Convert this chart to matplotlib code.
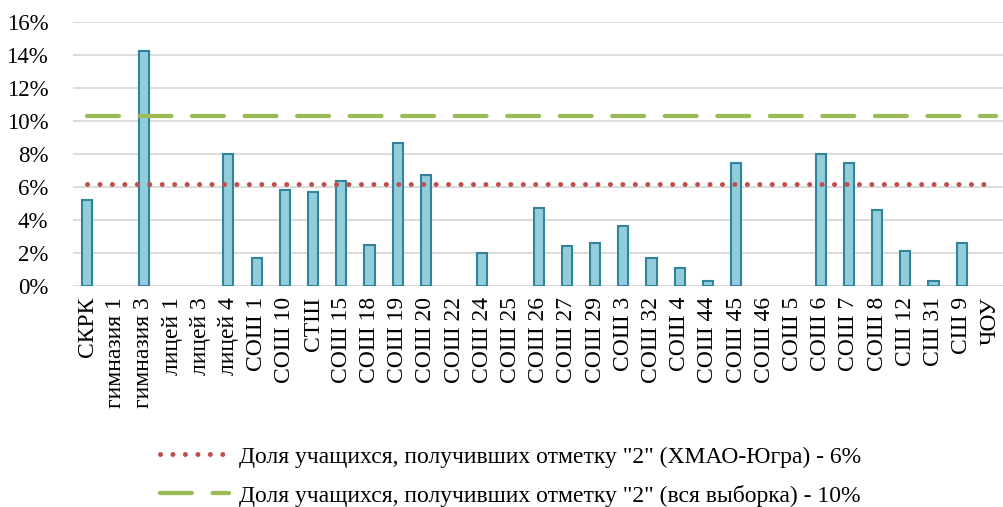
import matplotlib.pyplot as plt
from matplotlib.ticker import FuncFormatter

schools = ["СКРК", "гимназия 1", "гимназия 3", "лицей 1", "лицей 3", "лицей 4",
           "СОШ 1", "СОШ 10", "СТШ", "СОШ 15", "СОШ 18", "СОШ 19", "СОШ 20",
           "СОШ 22", "СОШ 24", "СОШ 25", "СОШ 26", "СОШ 27", "СОШ 29", "СОШ 3",
           "СОШ 32", "СОШ 4", "СОШ 44", "СОШ 45", "СОШ 46", "СОШ 5", "СОШ 6",
           "СОШ 7", "СОШ 8", "СШ 12", "СШ 31", "СШ 9", "ЧОУ"]
share = [5.2, 0, 14.25, 0, 0, 8.0,
         1.7, 5.8, 5.7, 6.35, 2.5, 8.65, 6.75,
         0, 2.0, 0, 4.7, 2.45, 2.6, 3.65,
         1.7, 1.1, 0.3, 7.45, 0, 0, 8.0,
         7.45, 4.6, 2.1, 0.3, 2.6, 0]
hmao_level = 6.2
all_level = 10.3
hmao_label = 'Доля учащихся, получивших отметку "2" (ХМАО-Югра) - 6%'
all_label = 'Доля учащихся, получивших отметку "2" (вся выборка) - 10%'

plt.rcParams['font.family'] = ['Liberation Serif', 'DejaVu Serif']

fig = plt.figure(figsize=(10.04, 5.07), dpi=100)
ax = fig.add_axes([0.073, 0.436, 0.927, 0.521])

x = list(range(len(schools)))
# zero values show no bar outline in the original
edges = [1.5 if v > 0 else 0 for v in share]
ax.bar(x, share, width=0.36, color='#92CDDC', edgecolor='#31849B', linewidth=edges, zorder=3)

ax.plot([x[0], x[-1]], [hmao_level, hmao_level], color='#C0504D', linewidth=3.6,
        linestyle=(0, (0.01, 2.48)), dash_capstyle='round', zorder=4, label=hmao_label)
ax.plot([x[0], x[-1] + 0.2], [all_level, all_level], color='#9BBB59', linewidth=3.1,
        linestyle=(0, (7.4, 4.8)), dash_capstyle='round', zorder=4, label=all_label)

ax.set_xlim(-0.5, len(schools) - 0.5)
ax.set_ylim(0, 16)
ax.set_yticks(range(0, 17, 2))
ax.yaxis.set_major_formatter(FuncFormatter(lambda v, p: f"{int(v)}%"))
ax.grid(axis='y', color='#D9D9D9', linewidth=1.3, zorder=0)
for s in ax.spines.values():
    s.set_visible(False)
ax.tick_params(axis='both', length=0, labelsize=17, colors='#000000')
ax.tick_params(axis='y', labelsize=16.5, pad=18)
ax.tick_params(axis='x', pad=8)
ax.set_xticks(x)
ax.set_xticklabels(schools, rotation=90, va='top', ha='center')

fig.legend(loc='upper left', frameon=False,
           fontsize=17, handlelength=2.95, handletextpad=0.42, labelspacing=0.72,
           borderaxespad=0, borderpad=0)
fig.legends[0].set_bbox_to_anchor((0.159, 1 - 446 / 507), transform=fig.transFigure)

fig.savefig("out.png", dpi=100)
